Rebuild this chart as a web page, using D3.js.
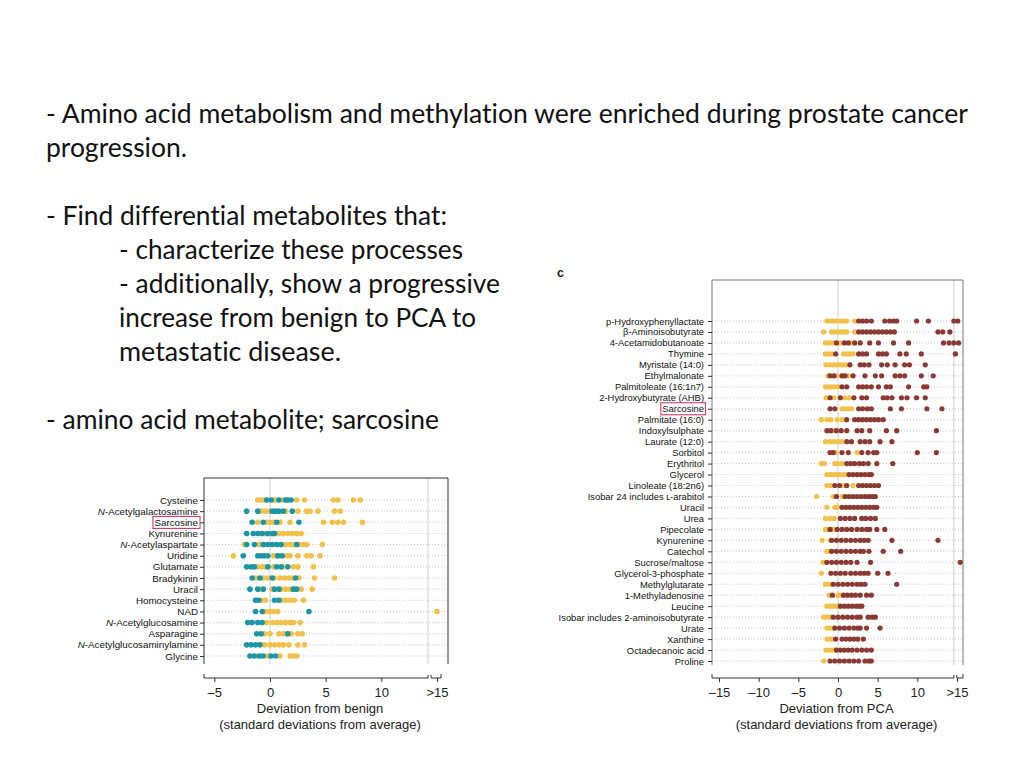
<!DOCTYPE html>
<html>
<head>
<meta charset="utf-8">
<script src="https://cdn.jsdelivr.net/npm/d3@7"></script>
<style>
  body { margin: 0; background: #fff; }
  svg { display: block; }
</style>
</head>
<body>
<svg id="slide" width="1024" height="768"></svg>
<script>
// slide text
const slideLines = [
  "- Amino acid metabolism and methylation were enriched during prostate cancer",
  "progression.",
  "- Find differential metabolites that:",
  "- characterize these processes",
  "- additionally, show a progressive",
  "increase from benign to PCA to",
  "metastatic disease.",
  "- amino acid metabolite; sarcosine"
];
const lineX = [46, 46, 46, 119, 119, 119, 119, 46];
const lineY = [123, 157, 225, 259, 293, 327, 361, 429];
const lineW = [922, 141, 401, 344, 381, 357, 222, 393];

// panel b: deviation from benign (teal = benign, yellow = PCA)
const benignNames = ["Cysteine", "N-Acetylgalactosamine", "Sarcosine", "Kynurenine", "N-Acetylaspartate",
  "Uridine", "Glutamate", "Bradykinin", "Uracil", "Homocysteine", "NAD", "N-Acetylglucosamine",
  "Asparagine", "N-Acetylglucosaminylamine", "Glycine"];
const benignSamples = [
  [-0.3, 0.1, 0.8, 1.4, 1.6, 1.9],
  [-2.1, -1.1, 0.2, 0.5, 0.8, 1.2, 2.0],
  [-1.6, -0.6, 0.6, 2.6],
  [-2.1, -1.5, -1.1, -0.7, -0.2, 0.2, 0.4],
  [-2.1, -1.4, -0.6, -0.2, 0.2, 0.6, 1.0, 2.4],
  [-2.4, -1.1, -0.8, -0.5, -0.2, 0.7, 1.1],
  [-2.1, -1.7, -1.4, -0.2, 0.6, 1.0, 1.6],
  [-1.6, -0.9, 0.2, 2.3],
  [-1.8, -1.1, -0.6, 0.4, 0.8, 2.1, 2.4],
  [-1.3, -1.0, 0.4, 0.8],
  [-1.3, -0.7, 3.5],
  [-2.0, -1.6, -1.1, -0.7],
  [-1.2, -0.8, 1.6],
  [-2.1, -1.7, -1.3, -0.9],
  [-1.8, -1.4, -1.0, -0.6, 0.1, 0.5]
];
const pcaVsBenign = [
  [-1.1, -0.8, -0.5, 0.3, 0.5, 1.1, 2.4, 3.1, 5.7, 6.1, 7.5, 8.1],
  [-0.8, -0.4, 0.0, 1.4, 2.5, 3.3, 3.6, 4.3, 5.8, 6.3],
  [-1.1, -0.3, 0.0, 0.3, 0.9, 1.8, 4.8, 5.6, 6.1, 6.6, 8.3],
  [-0.4, 0.8, 1.2, 1.6, 2.0, 2.4, 2.8],
  [-2.3, -1.0, -0.8, 1.0, 1.4, 1.8, 2.1, 2.6, 3.0, 3.3, 4.7],
  [-3.3, 0.3, 0.6, 1.0, 1.5, 1.8, 2.5, 3.3, 3.7, 4.5],
  [-1.1, -0.7, -0.4, 0.3, 1.2, 2.1, 2.5, 3.9],
  [-1.3, -0.6, -0.2, 0.4, 0.9, 1.3, 1.7, 2.0, 2.6, 4.0, 5.8],
  [-0.9, 0.2, 1.0, 1.4, 1.8, 2.2, 2.8, 3.8],
  [-0.8, -0.4, 1.0, 1.4, 1.8, 2.2, 3.0],
  [-0.4, 0.0, 0.3, 0.7, 15],
  [-0.3, 0.2, 0.6, 1.0, 1.4, 1.8, 2.1, 2.7],
  [-0.5, 0.0, 0.8, 1.2, 1.5, 1.9, 2.5, 2.9],
  [-0.5, 0.0, 0.4, 0.8, 1.2, 1.7, 2.5, 3.1],
  [-0.8, -0.2, 0.9, 1.8, 2.2, 2.4]
];
const benignTicks = [-5, 0, 5, 10, 15];

// panel c: deviation from PCA (yellow = PCA, red = metastatic)
const pcaNames = ["p-Hydroxyphenyllactate", "β-Aminoisobutyrate", "4-Acetamidobutanoate", "Thymine",
  "Myristate (14:0)", "Ethylmalonate", "Palmitoleate (16:1n7)", "2-Hydroxybutyrate (AHB)", "Sarcosine",
  "Palmitate (16:0)", "Indoxylsulphate", "Laurate (12:0)", "Sorbitol", "Erythritol", "Glycerol",
  "Linoleate (18:2n6)", "Isobar 24 includes ʟ-arabitol", "Uracil", "Urea", "Pipecolate", "Kynurenine",
  "Catechol", "Sucrose/maltose", "Glycerol-3-phosphate", "Methylglutarate", "1-Methyladenosine",
  "Leucine", "Isobar includes 2-aminoisobutyrate", "Urate", "Xanthine", "Octadecanoic acid", "Proline"];
const pcaSamples = [
  [-1.4, -1.0, -0.6, -0.2, 0.3, 0.7, 1.1, 2.1],
  [-1.8, -0.8, -0.4, 0.0, 0.4, 0.8, 1.1, 2.1],
  [-1.6, -1.1, -0.6, 0.3, 1.6],
  [-1.6, -1.2, -0.8, 0.7, 1.1, 1.5, 1.9],
  [-1.5, -1.0, -0.6, -0.2, 0.2, 0.6, 1.0],
  [-1.3, -0.2, 0.5, 1.3],
  [-1.6, -1.2, -0.8, -0.4, 0.0],
  [-1.5, -0.5, 0.9, 1.4],
  [0.5, 0.9, 1.3, 1.7],
  [-2.1, -1.4, -0.9, -0.1, 0.5],
  [-1.2, -0.5],
  [-1.6, -1.0, -0.5, 0.0, 0.5],
  [-0.3, 2.4],
  [-2.1, -1.7, -0.4, 0.0, 0.5],
  [-1.4, -1.0, -0.6, -0.2, 0.2, 0.6, 1.0],
  [-1.4, -0.9, 0.7, 1.9],
  [-2.7, -0.6, 0.5],
  [-1.4, -0.4, -0.1],
  [-1.6, -1.0, -0.5],
  [-1.6, -1.3, -0.6],
  [-2.0, -1.0],
  [-1.4, -1.1],
  [-1.9, -1.6],
  [-2.1],
  [-1.6, -1.2, -0.8],
  [-1.1, 0.0, 0.3],
  [-1.4, -1.0, -0.6, -0.2, 0.1],
  [-1.8, -1.4, -1.0],
  [-1.4, -1.0, -0.6],
  [-1.4, -1.0, -0.7],
  [-1.5, -1.1, -0.7, -0.4],
  [-1.8]
];
const metSamples = [
  [2.6, 3.1, 3.6, 4.2, 5.9, 6.5, 7.0, 7.4, 9.9, 11.4, 14.6, 15.1],
  [2.6, 3.1, 3.6, 4.1, 4.6, 5.1, 5.6, 6.1, 6.6, 7.1, 12.6, 13.2, 14.1],
  [-0.2, 0.8, 1.3, 2.1, 2.8, 4.0, 5.1, 7.0, 8.9, 13.3, 14.0, 14.6, 15.2],
  [-0.3, 2.6, 3.1, 3.6, 5.1, 5.6, 6.1, 7.8, 8.6, 10.5, 14.8],
  [1.5, 2.8, 3.3, 3.9, 5.5, 6.2, 7.2, 8.4, 9.0, 11.0],
  [-1.0, -0.5, 0.5, 0.9, 1.9, 3.4, 4.7, 5.5, 7.2, 7.8, 8.4, 10.5, 12.0],
  [0.5, 1.1, 2.6, 3.1, 3.6, 4.2, 5.1, 6.1, 6.6, 8.9, 10.8, 11.2],
  [-1.0, 0.3, 2.0, 3.0, 3.6, 5.7, 6.2, 6.8, 8.0, 8.7, 9.9, 11.0],
  [-1.0, -0.4, 2.6, 3.1, 3.7, 4.2, 6.6, 8.0, 11.2, 13.1],
  [1.1, 2.1, 2.6, 3.1, 3.6, 4.1, 4.6, 5.1, 5.7],
  [-1.4, -0.9, -0.2, 0.4, 1.1, 2.4, 3.0, 4.0, 6.1, 7.4, 12.4],
  [1.1, 1.7, 2.8, 3.4, 4.0, 5.3, 6.8],
  [-1.0, -0.6, 0.5, 1.3, 3.0, 3.8, 4.5, 4.9, 10.0, 12.4],
  [1.1, 1.6, 2.1, 2.7, 3.2, 3.8, 4.9, 6.9],
  [1.4, 1.9, 2.4, 2.9, 3.4, 3.9, 4.2],
  [-0.4, 0.2, 1.1, 2.6, 3.1, 3.6, 4.1, 4.6, 5.1],
  [-0.2, 0.9, 1.4, 1.9, 2.4, 2.9, 3.4, 3.9, 4.3, 4.7],
  [0.5, 1.0, 1.5, 2.0, 2.5, 3.0, 3.5, 4.0, 4.5, 4.9],
  [0.3, 0.9, 1.5, 2.1, 3.0, 3.5, 4.1, 4.7],
  [-1.0, -0.1, 0.5, 1.1, 1.7, 2.4, 3.0, 3.6, 4.0, 4.9, 5.9],
  [-0.8, -0.2, 0.4, 1.0, 1.6, 2.2, 2.8, 3.3, 3.8, 6.8, 12.6],
  [-0.8, -0.2, 0.4, 1.0, 1.6, 2.2, 2.8, 3.2, 3.9, 5.7, 7.9],
  [-1.4, -0.8, -0.2, 0.4, 1.0, 1.6, 2.4, 4.1, 15.4],
  [-0.9, -0.3, 0.3, 0.9, 1.6, 2.2, 2.8, 3.3, 3.8, 5.0, 6.3],
  [-0.6, 0.0, 0.6, 1.2, 1.8, 2.4, 2.9, 3.4, 7.4],
  [-0.7, 0.7, 1.2, 1.7, 2.2, 2.8, 3.6, 4.2],
  [0.3, 0.8, 1.3, 1.8, 2.3, 2.7, 3.0],
  [-0.6, 0.0, 0.6, 1.2, 1.8, 2.4, 2.8, 3.8, 4.3, 4.7],
  [-0.4, 0.2, 0.8, 1.4, 2.0, 2.5, 2.8, 3.6, 5.3],
  [-0.3, 0.5, 1.0, 1.5, 2.0, 2.5, 3.2],
  [-0.2, 0.3, 0.8, 1.3, 1.8, 2.4, 3.0, 3.6, 4.2],
  [-1.0, -0.4, 0.2, 0.8, 1.4, 2.0, 2.6, 3.4, 3.9, 4.2]
];
const pcaTicks = [-15, -10, -5, 0, 5, 10, 15];

const svg = d3.select("#slide");
svg.append("rect").attr("width", 1024).attr("height", 768).attr("fill", "#fff");

// bullet text
svg.append("g").selectAll("text")
  .data(slideLines)
  .join("text")
    .attr("x", (d, i) => lineX[i])
    .attr("y", (d, i) => lineY[i])
    .attr("textLength", (d, i) => lineW[i])
    .attr("lengthAdjust", "spacingAndGlyphs")
    .style("font-family", "Lato, 'Open Sans', sans-serif")
    .style("font-size", "26.5px")
    .style("font-variant-ligatures", "none")
    .attr("fill", "#111")
    .text(d => d);

svg.append("text")
  .attr("x", 557).attr("y", 277)
  .style("font-family", "'Liberation Sans', Arial, sans-serif")
  .style("font-size", "12.5px").style("font-weight", "bold")
  .attr("fill", "#222")
  .text("c");

const FONT = "'Liberation Sans', Arial, Helvetica, sans-serif";

function dotPanel(o) {
  let g = svg.append("g");
  let y = d3.scalePoint().domain(o.names).range([o.rowTop, o.rowBottom]);
  let x = d3.scaleLinear().domain([0, 15]).range([o.zeroX, o.maxX]);

  // dotted row lines
  g.append("g").selectAll("line").data(o.names).join("line")
    .attr("x1", o.left).attr("x2", o.right)
    .attr("y1", d => y(d)).attr("y2", d => y(d))
    .attr("stroke", "#b8b8b8").attr("stroke-width", 0.8)
    .attr("stroke-dasharray", "1,2");

  // vertical reference lines at 0 and at the axis break
  g.append("g").selectAll("line").data([0, o.breakAt]).join("line")
    .attr("x1", d => x(d)).attr("x2", d => x(d))
    .attr("y1", o.top).attr("y2", o.frameBottom)
    .attr("stroke", "#cfcfcf").attr("stroke-width", 1);

  // frame (left, top, right)
  g.append("path")
    .attr("d", `M${o.left},${o.frameBottom}V${o.top}H${o.right}V${o.frameBottom}`)
    .attr("fill", "none").attr("stroke", o.frameColor).attr("stroke-width", 1);

  // row labels
  let ya = g.append("g").attr("transform", `translate(${o.left},0)`)
    .call(d3.axisLeft(y).tickSize(4).tickPadding(o.labelPad));
  ya.select(".domain").remove();
  ya.selectAll(".tick line").attr("stroke", "#333");
  ya.selectAll(".tick text")
    .style("font-family", FONT).style("font-size", o.labelSize + "px").attr("fill", "#111")
    .each(function(d) {
      if (d.startsWith("N-")) {
        let t = d3.select(this).text("");
        t.append("tspan").style("font-style", "italic").text("N");
        t.append("tspan").text(d.slice(1));
      }
    });

  // highlight box round Sarcosine
  ya.selectAll(".tick").filter(d => d === "Sarcosine").each(function() {
    let t = d3.select(this).select("text").node();
    let bb = t.getBBox();
    d3.select(this).insert("rect", "text")
      .attr("x", bb.x - 1.5).attr("y", bb.y - 0.5)
      .attr("width", bb.width + 3).attr("height", bb.height + 1)
      .attr("fill", "none").attr("stroke", "#d23a6c").attr("stroke-width", 1.1);
  });

  // dots
  o.series.forEach(s => {
    let pts = o.names.flatMap((n, i) => s.values[i].map(v => ({ name: n, v: v })));
    g.append("g").selectAll("circle").data(pts).join("circle")
      .attr("cx", d => x(d.v))
      .attr("cy", d => y(d.name))
      .attr("r", o.r)
      .attr("fill", s.color);
  });

  // x axis with break before >15
  let xa = g.append("g").attr("transform", `translate(0,${o.axisY})`)
    .call(d3.axisBottom(x).tickValues(o.ticks).tickSize(4).tickSizeOuter(0).tickPadding(6)
      .tickFormat(d => d === 15 ? ">15" : d < 0 ? "\u2013" + (-d) : d));
  xa.select(".domain").remove();
  xa.selectAll(".tick line").attr("stroke", "#333");
  xa.selectAll(".tick text").style("font-family", FONT).style("font-size", "13px").attr("fill", "#222");
  let bx = x(o.breakAt);
  xa.append("path")
    .attr("d", `M${o.left},-4V0H${bx}V-3M${bx + 3},-3V0H${o.axisEnd}V-4`)
    .attr("fill", "none").attr("stroke", "#333").attr("stroke-width", 1);

  // axis title
  let cx = (o.left + o.right) / 2 + o.titleShift;
  [o.title, "(standard deviations from average)"].forEach((t, i) => {
    g.append("text")
      .attr("x", cx).attr("y", o.axisY + 35 + i * 16)
      .attr("text-anchor", "middle")
      .style("font-family", FONT).style("font-size", "13px").attr("fill", "#222")
      .text(t);
  });
}

dotPanel({
  names: benignNames,
  series: [
    { values: pcaVsBenign, color: "#f2c14b" },
    { values: benignSamples, color: "#1c96a6" }
  ],
  ticks: benignTicks,
  top: 478, frameBottom: 664, left: 204, right: 448,
  rowTop: 500, rowBottom: 656,
  zeroX: 270, maxX: 437, breakAt: 14.2,
  axisY: 678, axisEnd: 441,
  labelSize: 9.8, labelPad: 2,
  r: 2.8, frameColor: "#333",
  title: "Deviation from benign", titleShift: -6
});

dotPanel({
  names: pcaNames,
  series: [
    { values: pcaSamples, color: "#f2c14b" },
    { values: metSamples, color: "#8a3a32" }
  ],
  ticks: pcaTicks,
  top: 280, frameBottom: 665, left: 712, right: 963,
  rowTop: 321, rowBottom: 661,
  zeroX: 838, maxX: 957, breakAt: 14.6,
  axisY: 678, axisEnd: 963,
  labelSize: 9.4, labelPad: 4,
  r: 2.6, frameColor: "#777",
  title: "Deviation from PCA", titleShift: -1
});
</script>
</body>
</html>
